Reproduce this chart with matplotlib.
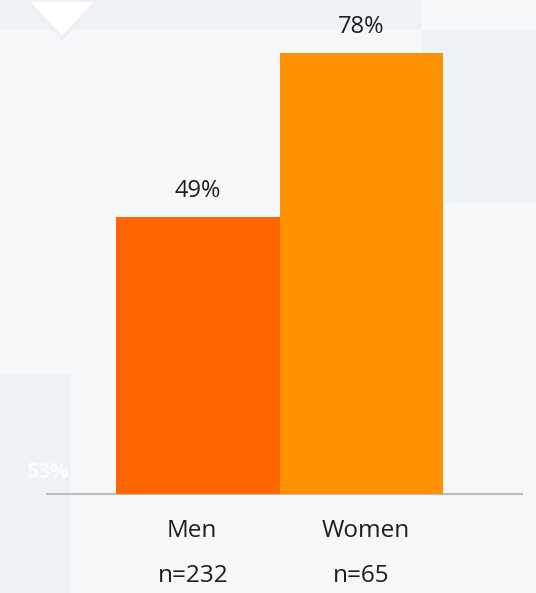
import matplotlib.pyplot as plt
from matplotlib.patches import Rectangle, Polygon
from matplotlib.transforms import blended_transform_factory

plt.rcParams['font.family'] = ['Open Sans', 'DejaVu Sans']

# data
groups = ["Men", "Women"]
shares = [49, 78]
sample_sizes = ["n=232", "n=65"]
bar_colors = ["#FF6600", "#FF9000"]

W, H = 536, 593
fig = plt.figure(figsize=(W / 100, H / 100), dpi=100)
fig.patch.set_facecolor("#F7F8FA")


def px_rect(x0, y0, x1, y1, color):
    # rectangle in figure pixels, y measured from the top
    fig.add_artist(Rectangle((x0 / W, 1 - y1 / H), (x1 - x0) / W, (y1 - y0) / H,
                             transform=fig.transFigure, facecolor=color,
                             edgecolor="none", zorder=0))


# background panels
px_rect(0, 0, 422, 30, "#EFF2F6")
px_rect(422, 30, 536, 203, "#EFF2F6")
px_rect(0, 374, 71, 593, "#EFF2F6")
chev = [(26 / W, 1.0), (98 / W, 1.0), (62 / W, 1 - 38 / H)]
fig.add_artist(Polygon(chev, closed=True, transform=fig.transFigure,
                       facecolor="white", edgecolor="#EEF0F3", linewidth=2.5, zorder=0))
fig.text(48 / W, 1 - 473 / H, "53%", color="white", alpha=0.85, fontsize=15,
         fontweight="bold", ha="center", va="center", zorder=1)

# plot area: baseline at y=494px, x from 47px to 522px
ax = fig.add_axes([47 / W, 1 - 494 / H, 475 / W, 452 / H])
ax.patch.set_alpha(0)
x = [0, 1]
bars = ax.bar(x, shares, width=1.0, color=bar_colors, zorder=3)
ax.set_xlim(-0.922, 1.983)
ax.set_ylim(0, 80)

for s in ["top", "right", "left"]:
    ax.spines[s].set_visible(False)
ax.spines["bottom"].set_color("#BDBDBD")
ax.spines["bottom"].set_linewidth(1.5)
ax.set_xticks([])
ax.set_yticks([])

# value labels above bars
for xi, v in zip(x, shares):
    ax.annotate(f"{v}%", (xi, v), xytext=(0, 26), textcoords="offset pixels",
                ha="center", va="center", fontsize=17, color="#1E1E1E",
                annotation_clip=False)

# category and sample size labels
trans = blended_transform_factory(ax.transData, fig.transFigure)
name_dx = [-0.035, 0.03]
n_dx = [-0.025, 0.0]
for xi, dx, ndx, g, n in zip(x, name_dx, n_dx, groups, sample_sizes):
    ax.text(xi + dx, 1 - 531 / H, g, transform=trans, ha="center", va="center",
            fontsize=17.5, color="#1E1E1E")
    ax.text(xi + ndx, 1 - 576 / H, n, transform=trans, ha="center", va="center",
            fontsize=17.5, color="#1E1E1E")

fig.savefig("out.png", dpi=100, facecolor=fig.get_facecolor())
